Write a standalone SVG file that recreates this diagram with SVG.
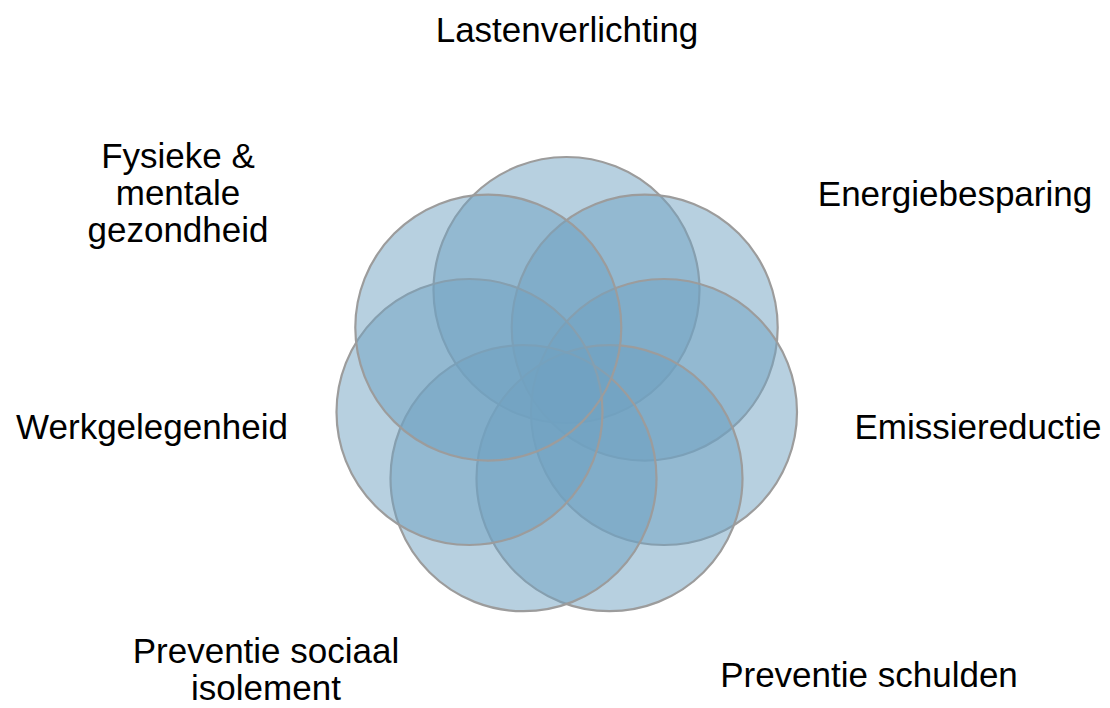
<svg xmlns="http://www.w3.org/2000/svg" width="1110" height="708" viewBox="0 0 1110 708">
<style>
.c{fill:#70a1c1;fill-opacity:0.5;stroke:#9c9c9c;stroke-width:2.2}
.t{font-family:"Liberation Sans",Arial,sans-serif;font-size:35px;fill:#000;text-anchor:middle}
</style>
<rect width="1110" height="708" fill="#fff"/>
<g id="connectors"></g>
<g id="n1"><circle class="c" cx="566.5" cy="290" r="133"/></g>
<g id="n2"><circle class="c" cx="644.7" cy="327.6" r="133"/></g>
<g id="n3"><circle class="c" cx="664" cy="412" r="133"/></g>
<g id="n4"><circle class="c" cx="609.5" cy="478.2" r="133"/></g>
<g id="n5"><circle class="c" cx="523.5" cy="478.2" r="133"/></g>
<g id="n6"><circle class="c" cx="469.5" cy="412" r="133"/></g>
<g id="n7"><circle class="c" cx="488.3" cy="327.6" r="133"/></g>
<g id="l1"><text class="t" x="567" y="42">Lastenverlichting</text></g>
<g id="l2"><text class="t" x="955" y="206">Energiebesparing</text></g>
<g id="l3"><text class="t" x="978" y="439">Emissiereductie</text></g>
<g id="l4"><text class="t" x="869" y="687">Preventie schulden</text></g>
<g id="l5"><text class="t" x="266" y="663">Preventie sociaal</text><text class="t" x="266" y="700">isolement</text></g>
<g id="l6"><text class="t" x="152" y="439">Werkgelegenheid</text></g>
<g id="l7"><text class="t" x="178" y="168">Fysieke &amp;</text><text class="t" x="178" y="205">mentale</text><text class="t" x="178" y="242">gezondheid</text></g>
</svg>
